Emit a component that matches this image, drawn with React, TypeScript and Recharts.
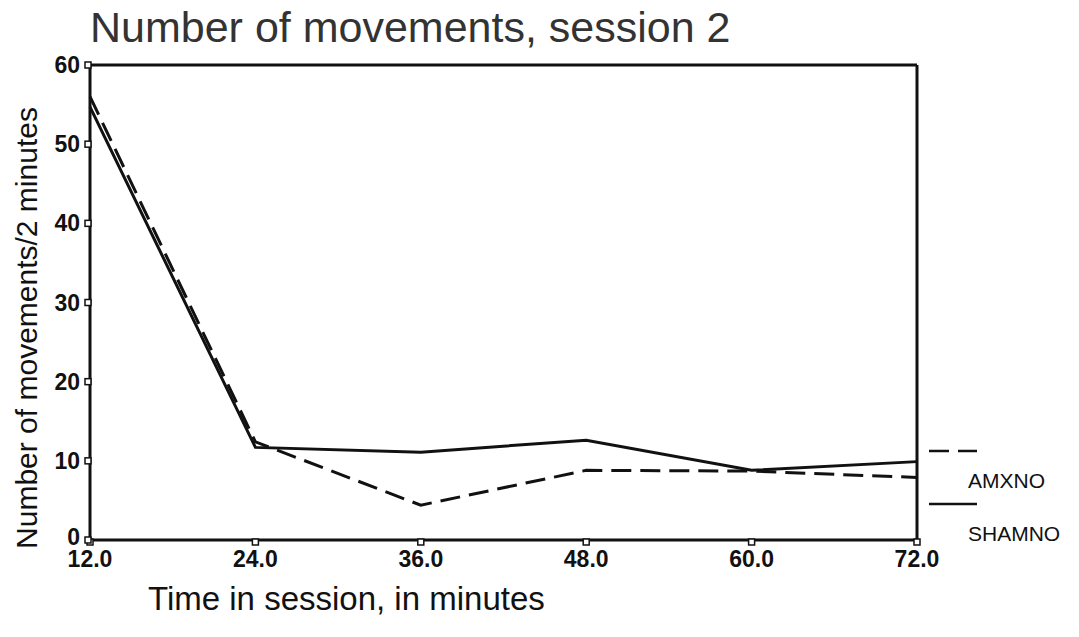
import React from 'react';
import { LineChart, Line, XAxis, YAxis, ReferenceLine } from 'recharts';

const minutes = [12, 24, 36, 48, 60, 72];
const amxno = [56.0, 12.4, 4.4, 8.8, 8.7, 7.9];
const shamno = [54.7, 11.7, 11.1, 12.6, 8.8, 9.9];
const yTicks = [0, 10, 20, 30, 40, 50, 60];
const seriesNames = ['AMXNO', 'SHAMNO'];

const data = minutes.map((m, i) => ({ time: m, AMXNO: amxno[i], SHAMNO: shamno[i] }));

const FONT = '"Liberation Sans", Arial, sans-serif';
const INK = '#111';
const DASH = '20 9';

const YTick = (props: any) => {
  const { x, y, payload } = props;
  return (
    <g>
      <rect x={x + 3} y={y - 3} width={6} height={6} fill="#fff" stroke={INK} strokeWidth={1.5} />
      <text x={x - 2} y={y} dy={payload.value === 0 ? 5 : 8} textAnchor="end" fontSize={23} fontWeight="bold" fill={INK} fontFamily={FONT}>
        {payload.value}
      </text>
    </g>
  );
};

const XTick = (props: any) => {
  const { x, y, payload } = props;
  return (
    <g>
      <rect x={x - 3} y={y - 7} width={6} height={6} fill="#fff" stroke={INK} strokeWidth={1.5} />
      <text x={x} y={y} dy={21} textAnchor="middle" fontSize={23} fontWeight="bold" fill={INK} fontFamily={FONT}>
        {Number(payload.value).toFixed(1)}
      </text>
    </g>
  );
};

export default function App() {
  return (
    <div style={{ position: 'absolute', left: 0, top: 0, width: 1079, height: 637, background: '#fff', fontFamily: FONT }}>
      <div style={{ position: 'absolute', left: 90, top: 6, fontSize: 43, color: '#333', lineHeight: 1, whiteSpace: 'nowrap' }}>
        Number of movements, session 2
      </div>
      <div style={{ position: 'absolute', left: 27, top: 328, fontSize: 30, color: INK, lineHeight: 1, whiteSpace: 'nowrap', transform: 'translate(-50%, -50%) rotate(-90deg)' }}>
        Number of movements/2 minutes
      </div>
      <div style={{ position: 'absolute', left: 148, top: 582, fontSize: 33, color: INK, lineHeight: 1, whiteSpace: 'nowrap' }}>
        Time in session, in minutes
      </div>

      {/* legend on the right, outside the plot frame */}
      <div style={{ position: 'absolute', left: 929, top: 448 }}>
        {seriesNames.map((name, i) => (
          <div key={name} style={{ position: 'relative', height: 53 }}>
            <svg width={50} height={6} style={{ position: 'absolute', left: 0, top: 0 }}>
              <line x1={0} y1={3} x2={48} y2={3} stroke={INK} strokeWidth={2.5}
                strokeDasharray={i === 0 ? DASH : undefined} />
            </svg>
            <div style={{ position: 'absolute', left: 39, top: 22, fontSize: 21, color: INK, lineHeight: 1 }}>
              {name}
            </div>
          </div>
        ))}
      </div>

      <LineChart width={1079} height={637} data={data} margin={{ top: 65, right: 162, bottom: 57, left: 30 }}>
        <XAxis dataKey="time" type="number" domain={[12, 72]} ticks={minutes} height={40}
          axisLine={{ stroke: INK, strokeWidth: 3 }} tickLine={false} tickSize={0} tickMargin={6} tick={<XTick />} />
        <YAxis type="number" domain={[0, 60]} ticks={yTicks} width={60}
          axisLine={{ stroke: INK, strokeWidth: 3 }} tickLine={false} tickSize={0} tickMargin={8} tick={<YTick />} />
        <ReferenceLine y={60} stroke={INK} strokeWidth={3} />
        <ReferenceLine x={72} stroke={INK} strokeWidth={3} />
        <Line dataKey="AMXNO" stroke={INK} strokeWidth={3} strokeDasharray={DASH} dot={false} isAnimationActive={false} />
        <Line dataKey="SHAMNO" stroke={INK} strokeWidth={3} dot={false} isAnimationActive={false} />
      </LineChart>
    </div>
  );
}
